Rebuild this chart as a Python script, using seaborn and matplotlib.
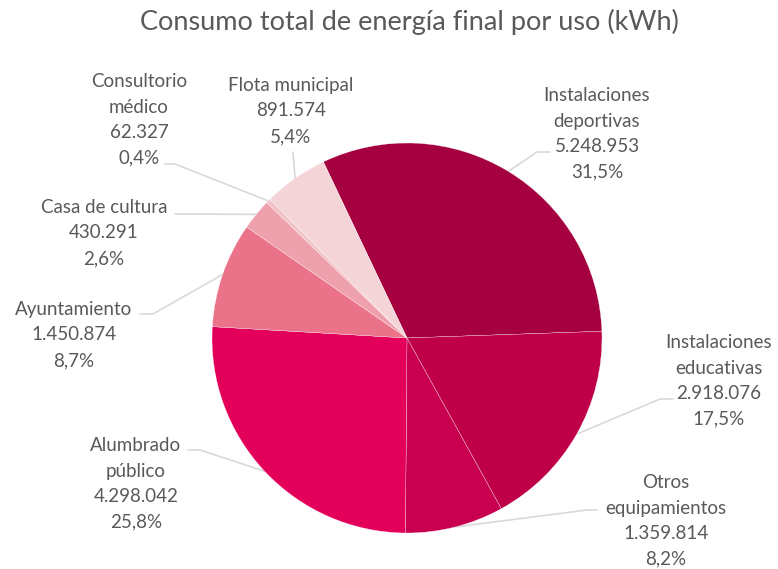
import numpy as np
import seaborn as sns
import matplotlib.pyplot as plt

# Data
categories = ['Instalaciones\ndeportivas', 'Instalaciones\neducativas', 'Otros\nequipamientos',
              'Alumbrado\npúblico', 'Ayuntamiento', 'Casa de cultura',
              'Consultorio\nmédico', 'Flota municipal']
values = [5248953, 2918076, 1359814, 4298042, 1450874, 430291, 62327, 891574]
colors = ['#A5003F', '#BF0048', '#C8004F', '#E3005A', '#EA738A', '#EEA0AC', '#F2C2C9', '#F5D4D8']

# label layout in pixels: text centre, elbow of leader line, end of leader line
label_pos = [(597, 134), (719, 381), (666, 521), (136, 484), (74, 335), (104, 233), (139, 120), (291, 111)]
elbows = [(537, 152), (660, 399), (587, 510), (200, 450), (153, 314), (185, 214), (175, 164), (293, 152)]
ends = [(550, 152), (673, 399), (597, 510), (188, 450), (140, 314), (175, 214), (165, 164), (293, 152)]

W, H = 778, 569
CX, CY, R = 407, 338, 195

sns.set_theme(style='white')
plt.rcParams['font.family'] = ['Lato', 'DejaVu Sans']
text_color = '#595959'

fig = plt.figure(figsize=(W / 100, H / 100), dpi=100)
ax = fig.add_axes([(CX - R) / W, (H - CY - R) / H, 2 * R / W, 2 * R / H])

wedges, _ = ax.pie(values, colors=colors, startangle=115.4, counterclock=False,
                   radius=1, center=(0, 0),
                   wedgeprops={'edgecolor': 'white', 'linewidth': 0.2})
ax.set_xlim(-1, 1)
ax.set_ylim(-1, 1)
ax.set_aspect('auto')


def px(p):
    # pixel coords of the image -> data coords of the pie axes
    return (p[0] - CX) / R, (CY - p[1]) / R


total = sum(values)
for w, cat, v, lp, el, en in zip(wedges, categories, values, label_pos, elbows, ends):
    mid = np.deg2rad((w.theta1 + w.theta2) / 2)
    start = (np.cos(mid), np.sin(mid))
    e1 = px(el)
    e2 = px(en)
    ax.plot([start[0], e1[0], e2[0]], [start[1], e1[1], e2[1]], color='#D9D9D9',
            lw=1.2, clip_on=False, zorder=0)
    pct = f'{v / total * 100:.1f}'.replace('.', ',') + '%'
    num = f'{v:,}'.replace(',', '.')
    tx, ty = px(lp)
    ax.text(tx, ty, f'{cat}\n{num}\n{pct}', ha='center', va='center', fontsize=13.5,
            color=text_color, linespacing=1.6)

fig.text(409 / W, 1 - 22 / H, 'Consumo total de energía final por uso (kWh)', ha='center', va='center',
         fontsize=19.5, color=text_color)

fig.savefig('out.png', dpi=100)
